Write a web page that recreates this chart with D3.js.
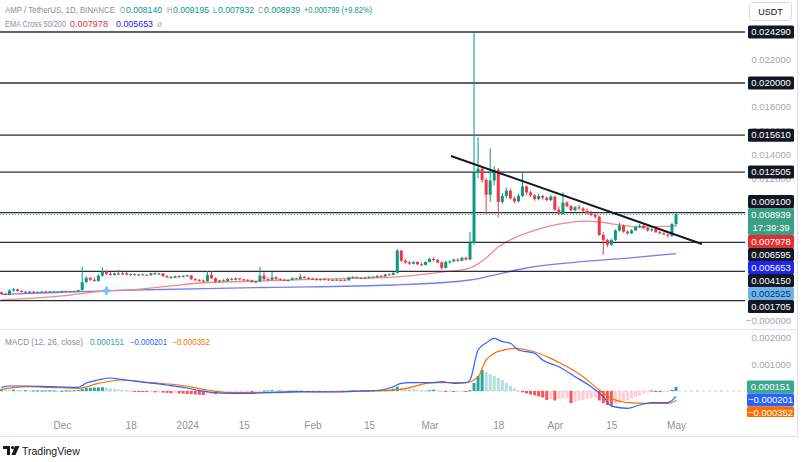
<!DOCTYPE html>
<html><head><meta charset="utf-8">
<script src="https://cdn.jsdelivr.net/npm/d3@7"></script>
<style>body{margin:0;background:#fff;} svg{display:block;font-family:"Liberation Sans",Arial,sans-serif;}</style>
</head><body><svg id="c" width="804" height="462"></svg>
<script>
// ---------- DATA ----------
const firstDay = "2023-11-16"; // daily candles, AMP/USDT Binance
const open = [
.00240,.00225,.00220,.00255,.00265,.00250,.00245,.00235,.00245,.00238,.00243,.00246,.00244,.00247,.00242,.00246,.00250,.00246,.00249,.00245,
.00258,.00325,.00360,.00345,.00335,.00380,.00415,.00395,.00385,.00398,.00390,.00400,.00388,.00392,.00385,.00390,.00387,.00383,.00400,.00392,
.00398,.00375,.00368,.00362,.00375,.00370,.00378,.00382,.00350,.00342,.00338,.00332,.00385,.00358,.00330,.00340,.00335,.00352,.00345,.00358,
.00348,.00345,.00340,.00325,.00330,.00380,.00350,.00345,.00365,.00350,.00345,.00340,.00343,.00358,.00350,.00370,.00360,.00355,.00350,.00346,
.00350,.00347,.00342,.00345,.00341,.00344,.00340,.00365,.00368,.00360,.00362,.00358,.00370,.00366,.00378,.00372,.00390,.00385,.00402,.00590,
.00505,.00490,.00480,.00495,.00475,.00470,.00495,.00520,.00510,.00490,.00445,.00495,.00500,.00515,.00505,.00530,.00515,.00655,.01245,.01280,
.01185,.01060,.01180,.01270,.01000,.01050,.01095,.01030,.01005,.01050,.01130,.01080,.01055,.01025,.01050,.01035,.01015,.01045,.00935,.00900,
.00995,.00965,.00930,.00955,.00945,.00925,.00905,.00890,.00875,.00722,.00680,.00640,.00680,.00760,.00800,.00750,.00735,.00760,.00790,.00800,
.00780,.00760,.00770,.00745,.00735,.00725,.00715,.00814];
const high = [
.00245,.00235,.00265,.00275,.00270,.00258,.00252,.00250,.00250,.00248,.00250,.00252,.00250,.00252,.00250,.00255,.00256,.00252,.00255,.00262,
.00455,.00375,.00370,.00365,.00390,.00450,.00425,.00410,.00405,.00430,.00410,.00410,.00398,.00400,.00395,.00400,.00393,.00405,.00410,.00405,
.00402,.00385,.00378,.00380,.00383,.00385,.00388,.00385,.00360,.00352,.00348,.00420,.00420,.00365,.00345,.00350,.00360,.00362,.00365,.00362,
.00355,.00352,.00345,.00335,.00455,.00410,.00365,.00410,.00375,.00360,.00352,.00348,.00365,.00362,.00395,.00375,.00368,.00362,.00358,.00355,
.00358,.00352,.00350,.00352,.00348,.00350,.00372,.00375,.00372,.00368,.00370,.00375,.00378,.00385,.00385,.00395,.00400,.00410,.00605,.00598,
.00520,.00505,.00500,.00500,.00490,.00500,.00530,.00535,.00520,.00500,.00505,.00510,.00525,.00525,.00540,.00540,.00745,.02429,.01546,.01300,
.01200,.01450,.01300,.01285,.01075,.01120,.01110,.01045,.01065,.01250,.01140,.01095,.01065,.01070,.01060,.01045,.01060,.01050,.00960,.01080,
.01005,.00975,.00965,.00975,.00955,.00945,.00925,.00910,.00885,.00745,.00690,.00690,.00770,.00825,.00810,.00760,.00770,.00800,.00815,.00810,
.00790,.00780,.00775,.00755,.00745,.00735,.00825,.009195];
const low = [
.00220,.00215,.00215,.00245,.00245,.00238,.00230,.00230,.00232,.00235,.00238,.00240,.00238,.00240,.00238,.00240,.00243,.00240,.00242,.00243,
.00255,.00315,.00335,.00330,.00330,.00370,.00385,.00380,.00380,.00385,.00385,.00382,.00378,.00380,.00378,.00383,.00378,.00380,.00385,.00385,
.00370,.00360,.00355,.00358,.00362,.00365,.00370,.00345,.00335,.00330,.00325,.00330,.00350,.00320,.00325,.00330,.00330,.00340,.00340,.00340,
.00338,.00335,.00320,.00315,.00325,.00340,.00335,.00340,.00345,.00340,.00335,.00330,.00340,.00345,.00348,.00355,.00350,.00345,.00340,.00338,
.00342,.00338,.00335,.00338,.00332,.00336,.00338,.00355,.00355,.00350,.00352,.00355,.00360,.00362,.00368,.00370,.00380,.00382,.00398,.00495,
.00480,.00470,.00475,.00470,.00462,.00465,.00490,.00500,.00485,.00430,.00440,.00480,.00490,.00495,.00500,.00505,.00510,.00640,.01200,.01160,
.00900,.01000,.01140,.00870,.00985,.01030,.01020,.00990,.00995,.01040,.01060,.01040,.01010,.01015,.01020,.01005,.01005,.00925,.00890,.00890,
.00955,.00920,.00920,.00935,.00915,.00895,.00880,.00860,.00715,.00554,.00620,.00630,.00670,.00750,.00740,.00725,.00730,.00755,.00780,.00770,
.00750,.00750,.00740,.00730,.00720,.00700,.00705,.007932];
const close = [
.00225,.00220,.00255,.00265,.00250,.00245,.00235,.00245,.00238,.00243,.00246,.00244,.00247,.00242,.00246,.00250,.00246,.00249,.00245,.00258,
.00325,.00360,.00345,.00335,.00380,.00415,.00395,.00385,.00398,.00390,.00400,.00388,.00392,.00385,.00390,.00387,.00383,.00400,.00392,.00398,
.00375,.00368,.00362,.00375,.00370,.00378,.00382,.00350,.00342,.00338,.00332,.00385,.00358,.00330,.00340,.00335,.00352,.00345,.00358,.00348,
.00345,.00340,.00325,.00330,.00380,.00350,.00345,.00365,.00350,.00345,.00340,.00343,.00358,.00350,.00370,.00360,.00355,.00350,.00346,.00350,
.00347,.00342,.00345,.00341,.00344,.00340,.00365,.00368,.00360,.00362,.00358,.00370,.00366,.00378,.00372,.00390,.00385,.00402,.00590,.00505,
.00490,.00480,.00495,.00475,.00470,.00495,.00520,.00510,.00490,.00445,.00495,.00500,.00515,.00505,.00530,.00515,.00655,.01245,.01280,.01185,
.01060,.01180,.01270,.01000,.01050,.01095,.01030,.01005,.01050,.01130,.01080,.01055,.01025,.01050,.01035,.01015,.01045,.00935,.00900,.00995,
.00965,.00930,.00955,.00945,.00925,.00905,.00890,.00875,.00722,.00680,.00640,.00680,.00760,.00800,.00750,.00735,.00760,.00790,.00800,.00780,
.00760,.00770,.00745,.00735,.00725,.00715,.00814,.008939];

// EMA Cross 50/200 (day index from firstDay, value)
const ema50Day = [0,15,26,33,42,49,65,81,97,109,116,120,123,128,133,138,145,148,153,158,167];
const ema50Val = [0.00175,0.00209,0.002525,0.00262,0.00293,0.00318,0.00335,0.00352,0.00368,0.0041,0.00444,0.00528,0.00621,0.00713,0.00772,0.00814,0.00839,0.00831,0.00806,0.00789,0.007978];
const ema200Day = [0,13,26,33,65,97,116,121,130,143,155,167];
const ema200Val = [0.00222,0.00238,0.002525,0.00259,0.0028,0.00301,0.00343,0.00377,0.00444,0.00495,0.00528,0.005653];
const crossDay = [26], crossVal = [0.002525];

// Horizontal levels and trend line
const levels = [0.024290,0.020000,0.015610,0.012505,0.009100,0.006595,0.004150,0.001705];
const trendDay = [111.3,173.4], trendVal = [0.01386,0.006461];

// MACD (12, 26, close)
const macdDay = [0,2,6,12,19,21,24,27,29,34,41,46,49,52,57,62,67,74,82,89,94,97,99,101,107,109,112,115,116,118,120,122,124,126,128,132,134,138,142,146,149,151,155,158,161,165,167];
const macdVal = [0.000137,0.000185,0.000185,0.00016,0.000137,0.000296,0.000407,0.000481,0.000444,0.000344,0.000222,0.000111,0.000011,-0.000048,-0.000085,-0.000085,-0.000048,-0.000026,-0.000037,0,0.000037,0.00016,0.000285,0.000307,0.000307,0.000344,0.000285,0.000307,0.000407,0.00152,0.00178,0.00195,0.00183,0.00177,0.00152,0.0014,0.00115,0.0009,0.00053,0.00016,-0.00021,-0.00056,-0.00064,-0.00052,-0.00043,-0.00043,-0.000201];
const signalDay = [0,6,12,19,24,30,37,44,51,57,66,74,86,94,99,107,115,118,120,122,125,127,131,136,140,144,148,151,155,160,165,167];
const signalVal = [0.000063,0.00016,0.000137,0.0001,0.000285,0.000407,0.000307,0.000222,0.000037,-0.000063,-0.000063,-0.000037,-0.000011,0.000011,0.000063,0.000307,0.000307,0.00053,0.00115,0.0014,0.00154,0.00158,0.00149,0.00121,0.0009,0.00053,0.000037,-0.00027,-0.00043,-0.00046,-0.00046,-0.000352];
const hist = [
0.00007,0.00006,0.00005,0.00005,0.00004,0.00003,0.00003,0.00002,0.00002,0.00002,0.00002,0.00002,0.00002,0.00002,0.00001,0.00001,0.00002,0.00002,0.00003,0.00004,
0.00008,0.00011,0.00012,0.00013,0.00013,0.00014,0.00012,0.0001,0.00008,0.00006,0.00004,0.00002,0.00001,-0.00001,-0.00002,-0.00003,-0.00004,-0.00004,-0.00005,-0.00005,
-0.00006,-0.00007,-0.00008,-0.00008,-0.00009,-0.0001,-0.00011,-0.00012,-0.00013,-0.00014,-0.00015,-0.00012,-0.00011,-0.00012,-0.0001,-0.00009,-0.00007,-0.00006,-0.00004,-0.00004,
-0.00003,-0.00003,-0.00004,-0.00004,-0.00001,0.00001,0.00002,0.00003,0.00002,0.00002,0.00001,0.00001,0.00001,0.00001,0.00001,0,-0.00001,-0.00001,-0.00001,-0.00002,
-0.00002,-0.00002,-0.00002,-0.00002,-0.00001,-0.00001,0.00001,0.00002,0.00001,0.00001,0.00001,0.00002,0.00002,0.00003,0.00003,0.00004,0.00005,0.00009,0.00016,0.00013,
0.00011,0.00009,0.00007,0.00005,0.00003,0.00002,0.00003,0.00005,0.00003,0.00001,-0.00002,-0.00002,-0.00003,-0.00002,-0.00001,-0.00002,0.00003,0.0003,0.00055,0.00078,
0.0007,0.00063,0.00056,0.00048,0.0004,0.0003,0.0002,0.0001,0.00003,-0.00005,-0.00009,-0.00013,-0.00016,-0.0002,-0.00024,-0.00033,-0.0003,-0.00035,-0.00031,-0.00028,
-0.00026,-0.00045,-0.0004,-0.00036,-0.00033,-0.0003,-0.00027,-0.00024,-0.00035,-0.00045,-0.00052,-0.00055,-0.0005,-0.00045,-0.0004,-0.00034,-0.00028,-0.00022,-0.00016,-0.0001,
-0.00006,0.00002,-0.00002,-0.00004,-0.00003,-0.00002,0.00004,0.000151];

const priceTicks = [0,0.012,0.014,0.016,0.018,0.022];
const macdTicks = [0.002,0.001];
const xTickDates = ["2023-12-01","2023-12-18","2024-01-01","2024-01-15","2024-02-01","2024-02-15","2024-03-01","2024-03-18","2024-04-01","2024-04-15","2024-05-01"];
const xTickLabels = ["Dec","18","2024","15","Feb","15","Mar","18","Apr","15","May"];
const lastPrice = 0.008939, countdown = "17:39:39";
const macdLast = [0.000151,-0.000201,-0.000352];

// ---------- DRAW ----------
const GREEN="#089981", RED="#f23645";
const svg = d3.select("#c");
const plotR = 745;
const t0 = d3.utcParse("%Y-%m-%d")(firstDay);
const dayDate = i => new Date(t0.getTime() + i*864e5);
const x = d3.scaleUtc().domain([d3.utcParse("%Y-%m-%d")("2023-12-01"), d3.utcParse("%Y-%m-%d")("2024-05-01")]).range([62,676]);
const y = d3.scaleLinear().domain([0,0.02429]).range([320.8,32]);
const ym = d3.scaleLinear().domain([0,0.001]).range([391,364]);
const xi = i => x(dayDate(i));

const defs = svg.append("defs");
defs.append("clipPath").attr("id","mainClip").append("rect").attr("x",0).attr("y",0).attr("width",plotR).attr("height",329);
defs.append("clipPath").attr("id","macdClip").append("rect").attr("x",0).attr("y",330).attr("width",plotR).attr("height",87);
defs.append("clipPath").attr("id","macdAxClip").append("rect").attr("x",plotR).attr("y",330).attr("width",60).attr("height",87);

// frame
svg.append("line").attr("x1",0).attr("x2",797).attr("y1",329.5).attr("y2",329.5).attr("stroke","#e0e3eb");
svg.append("line").attr("x1",0).attr("x2",797).attr("y1",436.5).attr("y2",436.5).attr("stroke","#e0e3eb");
svg.append("line").attr("x1",797.5).attr("x2",797.5).attr("y1",0).attr("y2",437).attr("stroke","#e0e3eb");

const main = svg.append("g").attr("clip-path","url(#mainClip)");

// EMA lines
const lineGen = d3.line().x(d=>xi(d[0])).y(d=>y(d[1])).curve(d3.curveMonotoneX);
main.append("path").datum(ema200Day.map((d,k)=>[d,ema200Val[k]])).attr("d",lineGen)
  .attr("fill","none").attr("stroke","#7a7cf2").attr("stroke-width",1.3);
main.append("path").datum(ema50Day.map((d,k)=>[d,ema50Val[k]])).attr("d",lineGen)
  .attr("fill","none").attr("stroke","#ef8a8a").attr("stroke-width",1.3);

// horizontal levels
main.selectAll(".lvl").data(levels).join("line")
  .attr("x1",0).attr("x2",plotR).attr("y1",d=>y(d)).attr("y2",d=>y(d))
  .attr("stroke","#2a2e39").attr("stroke-width",1.3);

// price line
main.append("line").attr("x1",0).attr("x2",plotR).attr("y1",y(lastPrice)).attr("y2",y(lastPrice))
  .attr("stroke",GREEN).attr("stroke-width",1).attr("stroke-dasharray","1,2").attr("opacity",0.8);

// candles
const cg = main.append("g");
close.forEach((c,i)=>{
  const o=open[i], col = c>=o?GREEN:RED, cx = xi(i);
  cg.append("line").attr("x1",cx).attr("x2",cx).attr("y1",y(high[i])).attr("y2",y(low[i])).attr("stroke",col).attr("stroke-width",1);
  const top=y(Math.max(o,c)), bot=y(Math.min(o,c));
  cg.append("rect").attr("x",cx-1.5).attr("width",3).attr("y",top).attr("height",Math.max(1,bot-top)).attr("fill",col);
});

// EMA cross marker
crossDay.forEach((d,k)=>{
  const cx=xi(d), cy=y(crossVal[k]);
  main.append("path").attr("d",`M${cx-4},${cy}H${cx+4}M${cx},${cy-4}V${cy+4}`).attr("stroke","#7cc3f2").attr("stroke-width",3);
});

// trend line
main.append("line").attr("x1",xi(trendDay[0])).attr("y1",y(trendVal[0])).attr("x2",xi(trendDay[1])).attr("y2",y(trendVal[1]))
  .attr("stroke","#131722").attr("stroke-width",2);

// ----- price axis -----
const fmt = d3.format(".6f");
const axG = svg.append("g").attr("transform",`translate(${plotR},0)`);
axG.call(d3.axisRight(y).tickValues(priceTicks).tickSize(0).tickPadding(0).tickFormat(d=> d===0?"\u22120.000000":fmt(d)));
axG.select(".domain").remove();
axG.selectAll("text").attr("x",46).attr("text-anchor","end").attr("fill","#a3a6af").attr("font-size","9.5px").attr("font-family","Liberation Sans, Arial, sans-serif");

function stack(items, anchor){ // items sorted top->bottom, anchor index
  items.forEach(it=>{it.top = it.cy - 6.5; it.bot = it.top + it.h;});
  for(let k=anchor+1;k<items.length;k++){ items[k].top=Math.max(items[k].top, items[k-1].bot); items[k].bot=items[k].top+items[k].h; }
  for(let k=anchor-1;k>=0;k--){ items[k].bot=Math.min(items[k].bot, items[k+1].top); items[k].top=items[k].bot-items[k].h; }
  return items;
}
const lab = [];
levels.forEach(v=>lab.push({v, cy:y(v), h:13, bg:"#131722", fg:"#fff"}));
lab.push({v:lastPrice, cy:y(lastPrice), h:27, bg:"#3a9f84", fg:"#fff", sub:countdown});
lab.push({v:ema50Val[ema50Val.length-1], cy:y(ema50Val[ema50Val.length-1]), h:13, bg:"#e0302f", fg:"#fff"});
lab.push({v:ema200Val[ema200Val.length-1], cy:y(ema200Val[ema200Val.length-1]), h:13, bg:"#1f24ee", fg:"#fff"});
lab.push({v:crossVal[0], cy:y(crossVal[0]), h:13, bg:"#6cb6ec", fg:"#0f2f6b"});
lab.sort((a,b)=>b.v-a.v);
stack(lab, lab.findIndex(d=>d.sub));
const lg = svg.append("g");
lab.forEach(d=>{
  lg.append("rect").attr("x",748).attr("y",d.top).attr("width",46).attr("height",d.h).attr("rx",1.5).attr("fill",d.bg);
  lg.append("text").attr("x",771).attr("y",d.top+9.6).attr("text-anchor","middle").attr("fill",d.fg).attr("font-size","9.5px").text(fmt(d.v));
  if(d.sub) lg.append("text").attr("x",771).attr("y",d.top+22.6).attr("text-anchor","middle").attr("fill",d.fg).attr("font-size","9.5px").text(d.sub);
});

// USDT box
svg.append("rect").attr("x",749.5).attr("y",2.5).attr("width",42).attr("height",18).attr("rx",3).attr("fill","#fff").attr("stroke","#d8dbe2");
svg.append("text").attr("x",770.5).attr("y",15).attr("text-anchor","middle").attr("font-size","9px").attr("fill","#131722").text("USDT");

// ----- MACD pane -----
const mg = svg.append("g").attr("clip-path","url(#macdClip)");
mg.append("line").attr("x1",0).attr("x2",plotR).attr("y1",ym(0)).attr("y2",ym(0)).attr("stroke","#c9ccd4").attr("stroke-dasharray","3,3");
hist.forEach((v,i)=>{
  const prev = i>0?hist[i-1]:0;
  const col = v>=0 ? (v>=prev?"#26a69a":"#b2dfdb") : (v<prev?"#ff5252":"#ffcdd2");
  const a=ym(0), b=ym(v);
  mg.append("rect").attr("x",xi(i)-1.5).attr("width",3).attr("y",Math.min(a,b)).attr("height",Math.max(1,Math.abs(b-a))).attr("fill",col);
});
const mLine = d3.line().x(d=>xi(d[0])).y(d=>ym(d[1])).curve(d3.curveMonotoneX);
mg.append("path").datum(signalDay.map((d,k)=>[d,signalVal[k]])).attr("d",mLine).attr("fill","none").attr("stroke","#ff6d00").attr("stroke-width",1.2);
mg.append("path").datum(macdDay.map((d,k)=>[d,macdVal[k]])).attr("d",mLine).attr("fill","none").attr("stroke","#2962ff").attr("stroke-width",1.2);

const maxG = svg.append("g").attr("transform",`translate(${plotR},0)`);
maxG.call(d3.axisRight(ym).tickValues(macdTicks).tickSize(0).tickPadding(0).tickFormat(fmt));
maxG.select(".domain").remove();
maxG.selectAll("text").attr("x",46).attr("text-anchor","end").attr("fill","#a3a6af").attr("font-size","9.5px").attr("font-family","Liberation Sans, Arial, sans-serif");
const mlab = macdLast.map((v,k)=>({v, cy:ym(v), h:13, bg:["#3aa890","#2962ff","#ff6d00"][k]}));
mlab.sort((a,b)=>b.v-a.v);
stack(mlab, 0);
const mlg = svg.append("g").attr("clip-path","url(#macdAxClip)");
mlab.forEach(d=>{
  mlg.append("rect").attr("x",747).attr("y",d.top).attr("width",47).attr("height",d.h).attr("rx",1.5).attr("fill",d.bg);
  mlg.append("text").attr("x",770.5).attr("y",d.top+9.6).attr("text-anchor","middle").attr("fill","#fff").attr("font-size","9.5px").text(d.v<0?"\u2212"+fmt(-d.v):fmt(d.v));
});

// ----- time axis -----
const tx = svg.append("g").attr("transform","translate(0,420)");
tx.call(d3.axisBottom(x).tickValues(xTickDates.map(d3.utcParse("%Y-%m-%d"))).tickSize(0).tickPadding(0).tickFormat((d,k)=>xTickLabels[k]));
tx.select(".domain").remove();
tx.selectAll("text").attr("y",2).attr("fill","#8f929b").attr("font-size","10px").attr("font-family","Liberation Sans, Arial, sans-serif");

// ----- legends -----
function seg(parts, yy){
  parts.forEach(p=>svg.append("text").attr("x",p[1]).attr("y",yy).attr("font-size","9px").attr("fill",p[2])
    .attr("textLength",p[3]).attr("lengthAdjust","spacingAndGlyphs").text(p[0]));
}
const G2="#8c8f99";
seg([["AMP / TetherUS, 1D, BINANCE",5,G2,110],["O",120,G2,5],["0.008140",126,GREEN,36],["H",167,G2,5],["0.009195",173,GREEN,36],
     ["L",213,G2,4],["0.007932",218,GREEN,36],["C",258,G2,5],["0.008939",264,GREEN,36],["+0.000799 (+9.82%)",304,GREEN,68]], 12.5);
seg([["EMA Cross 50/200",5,G2,61],["0.007978",70,"#e0302f",38],["0.005653",116,"#2424e8",37],["\u00f8",157,"#b0b3bb",5]], 26.5);
seg([["MACD (12, 26, close)",5,G2,78],["0.000151",90,"#26a69a",34],["\u22120.000201",130,"#2962ff",37],["\u22120.000352",172,"#ff6d00",38]], 344.5);

// TradingView logo
const logo = svg.append("g").attr("fill","#131722");
logo.append("path").attr("d","M3,446H10V455H7V449H3Z");
logo.append("circle").attr("cx",12.6).attr("cy",447.6).attr("r",1.6);
logo.append("path").attr("d","M15,446H19.5L15.5,455H11.5Z");
svg.append("text").attr("x",22).attr("y",454.5).attr("font-size","10.5px").attr("fill","#131722").text("TradingView");
</script></body></html>
